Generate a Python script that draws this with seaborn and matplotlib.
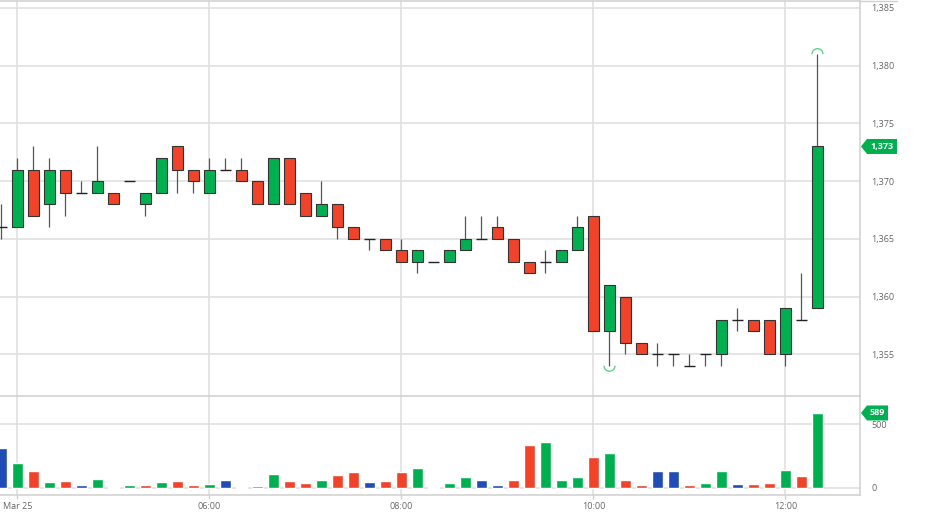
import numpy as np
import pandas as pd
import matplotlib
matplotlib.use("Agg")
import matplotlib.pyplot as plt
import seaborn as sns
from matplotlib.patches import Polygon, Arc
from matplotlib.lines import Line2D
from matplotlib.transforms import IdentityTransform

# ---------------- data ----------------
opens = [1366, 1366, 1371, 1368, 1371, 1369, 1369, 1369, 1370, 1368, 1369, 1373, 1371,
         1369, 1371, 1371, 1370, 1368, 1372, 1369, 1367, 1368, 1366, 1365, 1365, 1364,
         1363, 1363, 1363, 1364, 1365, 1366, 1365, 1363, 1363, 1363, 1364, 1367, 1357,
         1360, 1356, 1355, 1355, 1354, 1355, 1355, 1358, 1358, 1358, 1355, 1358, 1359]
closes = [1366, 1371, 1367, 1371, 1369, 1369, 1370, 1368, 1370, 1369, 1372, 1371, 1370,
          1371, 1371, 1370, 1368, 1372, 1368, 1367, 1368, 1366, 1365, 1365, 1364, 1363,
          1364, 1363, 1364, 1365, 1365, 1365, 1363, 1362, 1363, 1364, 1366, 1357, 1361,
          1356, 1355, 1355, 1355, 1354, 1355, 1358, 1358, 1357, 1355, 1359, 1358, 1373]
highs = [1368, 1372, 1373, 1372, 1371, 1370, 1373, 1369, 1370, 1369, 1372, 1373, 1371,
         1372, 1372, 1372, 1370, 1372, 1372, 1369, 1370, 1368, 1366, 1365, 1365, 1365,
         1364, 1363, 1364, 1367, 1367, 1367, 1365, 1363, 1364, 1364, 1367, 1367, 1361,
         1360, 1356, 1356, 1355, 1355, 1355, 1358, 1359, 1358, 1358, 1359, 1362, 1381]
lows = [1365, 1366, 1367, 1366, 1367, 1369, 1369, 1368, 1370, 1367, 1369, 1369, 1369,
        1369, 1371, 1370, 1368, 1368, 1368, 1367, 1367, 1365, 1365, 1364, 1364, 1363,
        1362, 1363, 1363, 1364, 1365, 1365, 1363, 1362, 1362, 1363, 1364, 1357, 1354,
        1355, 1355, 1354, 1354, 1354, 1354, 1354, 1357, 1357, 1355, 1354, 1358, 1359]
volumes = [314, 196, 133, 47, 55, 26, 73, 10, 21, 26, 47, 58, 21, 34, 65, 10, 18, 107,
           55, 39, 63, 102, 128, 45, 58, 123, 157, 10, 37, 86, 63, 26, 65, 335, 359, 63,
           89, 243, 277, 63, 24, 131, 131, 24, 37, 133, 31, 31, 37, 139, 94, 589]

time_tick_pos = [1, 13, 25, 37, 49]
time_tick_labels = ["Mar 25", "06:00", "08:00", "10:00", "12:00"]
price_ticks = [1355, 1360, 1365, 1370, 1375, 1380, 1385]
price_tick_labels = ["1,355", "1,360", "1,365", "1,370", "1,375", "1,380", "1,385"]
vol_ticks = [0, 500]
vol_tick_labels = ["0", "500"]
last_price_label = "1,373"
last_volume_label = "589"

# ---------------- style ----------------
GREEN = "#00b050"
RED = "#f0432a"
BLUE = "#1f4db5"
GRID = "#e0e0e0"
SPINE = "#d0d0d0"
TXT = "#666666"

sns.set_theme(style="white")
plt.rcParams['font.family'] = ['Open Sans', 'DejaVu Sans']

W, H = 937, 530
fig = plt.figure(figsize=(W / 100, H / 100), dpi=100)
fig.patch.set_facecolor("white")

def fy(ypx):
    return 1 - ypx / H

ax = fig.add_axes([0, fy(396), 860 / W, fy(1) - fy(396)])
axv = fig.add_axes([0, fy(495), 860 / W, fy(396) - fy(495)], sharex=ax)

o = np.array(opens, float)
c = np.array(closes, float)
h = np.array(highs, float)
l = np.array(lows, float)
idx = np.arange(len(o))

df = pd.DataFrame({"idx": idx, "open": o, "close": c, "high": h, "low": l,
                   "volume": volumes})
chg = np.diff(c, prepend=c[0])
df["direction"] = np.where(chg > 0, "up", np.where(chg < 0, "down", "flat"))

BW = 0.69
# wicks
ax.vlines(df["idx"], df["low"], df["high"], color="#555555", lw=0.9, zorder=2)
# bodies
body = df[df["open"] != df["close"]]
bcol = np.where(body["close"] > body["open"], GREEN, RED)
ax.bar(body["idx"], (body["close"] - body["open"]).abs(),
       bottom=np.minimum(body["open"], body["close"]), width=BW,
       color=bcol, edgecolor="#333333", linewidth=0.8, zorder=3)
# doji
doji = df[df["open"] == df["close"]]
ax.hlines(doji["close"], doji["idx"] - BW / 2, doji["idx"] + BW / 2,
          color="#222222", lw=1.0, zorder=3)

# volume bars via seaborn
sns.barplot(data=df, x="idx", y="volume", hue="direction",
            palette={"up": GREEN, "down": RED, "flat": BLUE},
            native_scale=True, dodge=False, width=BW, errorbar=None,
            legend=False, saturation=1, ax=axv, zorder=3)

xl = (-1.5 / 16, 858.5 / 16)
ax.set_xlim(*xl)
ax.set_ylim(1385 - (396 - 8) / 11.54, 1385 + 7 / 11.54)
axv.set_ylim(-(495 - 488) * 7.85, 500 + (424.3 - 396) * 7.85)
axv.set_xlim(*xl)

# high / low markers
xs_px, ys_px = 16.0, 11.54
ax.add_patch(Arc((51, 1381), 11 / xs_px, 11 / ys_px, theta1=0, theta2=180,
                 color="#5fd38d", lw=1.0, zorder=4))
ax.add_patch(Arc((38, 1354), 11 / xs_px, 11 / ys_px, theta1=180, theta2=360,
                 color="#5fd38d", lw=1.0, zorder=4))

for a in (ax, axv):
    a.set_axisbelow(True)
    a.grid(True, color=GRID, lw=1.2)
    a.yaxis.tick_right()
    a.tick_params(axis="y", length=0, pad=8, labelsize=6.5, labelcolor=TXT)
    a.spines["left"].set_visible(False)
    for s in ("right", "top", "bottom"):
        a.spines[s].set_color(SPINE)
        a.spines[s].set_linewidth(1.1)
    a.set_xlabel("")
    a.set_ylabel("")

axv.patch.set_alpha(0)
ax.set_zorder(2)
axv.set_zorder(1)

ax.set_yticks(price_ticks, labels=price_tick_labels)
axv.set_yticks(vol_ticks, labels=vol_tick_labels)
ax.set_xticks(time_tick_pos)
ax.tick_params(axis="x", bottom=False, labelbottom=False)
axv.set_xticks(time_tick_pos, labels=time_tick_labels)
axv.tick_params(axis="x", bottom=True, length=3, width=1, color=SPINE, pad=2,
                labelsize=6.5, labelcolor=TXT)
axv.spines["top"].set_visible(False)

# top border extension
fig.add_artist(Line2D([860 / W, 897 / W], [fy(1), fy(1)], color=SPINE, lw=1.0))

fig.canvas.draw()

def tag(axis, value, text, right_px):
    yd = axis.transData.transform((0, value))[1]
    x0, xs = 861, 867
    hh = 7.5
    pts = [(x0, yd), (xs, yd + hh), (right_px, yd + hh), (right_px, yd - hh), (xs, yd - hh)]
    fig.add_artist(Polygon(pts, closed=True, facecolor=GREEN, edgecolor="none",
                           transform=IdentityTransform(), zorder=10))
    fig.text((xs + right_px) / 2 / W, yd / H, text, color="white", fontsize=6.5,
             fontweight="bold", ha="center", va="center", zorder=11)

tag(ax, closes[-1], last_price_label, 897)
tag(axv, volumes[-1], last_volume_label, 888)

fig.savefig("out.png", dpi=100)
